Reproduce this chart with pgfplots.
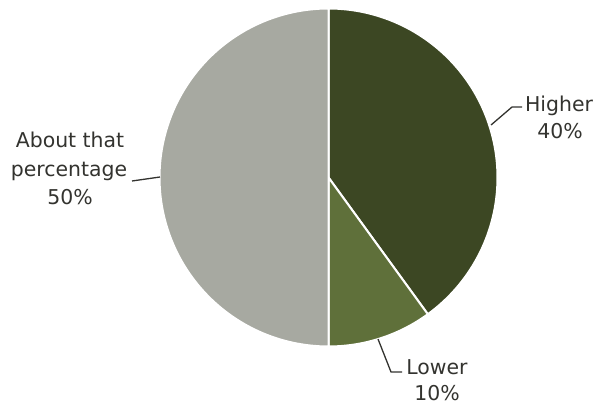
\documentclass[border=0pt]{standalone}
\usepackage{pgfplots}
\usepackage{pgfplotstable}
\pgfplotsset{compat=1.18}
\usepackage{fontspec}
\setmainfont{DejaVu Sans}
\definecolor{cHigh}{HTML}{3C4723}
\definecolor{cLow}{HTML}{5F703A}
\definecolor{cAbout}{HTML}{A7A9A1}
\definecolor{cText}{HTML}{33332F}
\pgfplotstableread{
label pct
Higher 40
Lower 10
About 50
}\piedata
\pgfplotstablegetelem{0}{pct}\of\piedata \let\pA\pgfplotsretval
\pgfplotstablegetelem{1}{pct}\of\piedata \let\pB\pgfplotsretval
\pgfplotstablegetelem{2}{pct}\of\piedata \let\pC\pgfplotsretval
\pgfmathsetmacro\aZero{90}
\pgfmathsetmacro\aOne{90-3.6*\pA}
\pgfmathsetmacro\aTwo{\aOne-3.6*\pB}
\pgfmathsetmacro\aThree{\aTwo-3.6*\pC}
\newcommand\lblfont{\fontsize{20.5}{24}\selectfont}
\begin{document}
\begin{tikzpicture}[lbl/.style={anchor=base, font=\lblfont, text=cText, inner sep=0pt}]
\begin{axis}[hide axis, scale only axis, width=596bp, height=405bp,
  xmin=0, xmax=596, ymin=0, ymax=405, clip=false]
\path (axis cs:0,0) rectangle (axis cs:596,405);
\addplot[fill=cHigh, draw=white, line width=2bp, domain=\aOne:\aZero, samples=90, variable=\t]
  ({328.5+169*cos(t)},{227.5+169*sin(t)}) -- (axis cs:328.5,227.5) -- cycle;
\addplot[fill=cLow, draw=white, line width=2bp, domain=\aTwo:\aOne, samples=40, variable=\t]
  ({328.5+169*cos(t)},{227.5+169*sin(t)}) -- (axis cs:328.5,227.5) -- cycle;
\addplot[fill=cAbout, draw=white, line width=2bp, domain=\aThree:\aTwo, samples=120, variable=\t]
  ({328.5+169*cos(t)},{227.5+169*sin(t)}) -- (axis cs:328.5,227.5) -- cycle;
% leader lines
\addplot[draw=cText, line width=1.3bp, mark=none] coordinates {(491,280) (512,298) (522,298)};
\addplot[draw=cText, line width=1.3bp, mark=none] coordinates {(378,66) (391,33) (402,33)};
\addplot[draw=cText, line width=1.3bp, mark=none] coordinates {(132,224) (146,226) (160,228)};
% labels
\node[lbl] at (axis cs:559,293) {Higher};
\node[lbl] at (axis cs:560,266) {40\%};
\node[lbl] at (axis cs:437,31) {Lower};
\node[lbl] at (axis cs:437,5) {10\%};
\node[lbl] at (axis cs:70,257) {About that};
\node[lbl] at (axis cs:69,228) {percentage};
\node[lbl] at (axis cs:70,200) {50\%};
\end{axis}
\end{tikzpicture}
\end{document}
